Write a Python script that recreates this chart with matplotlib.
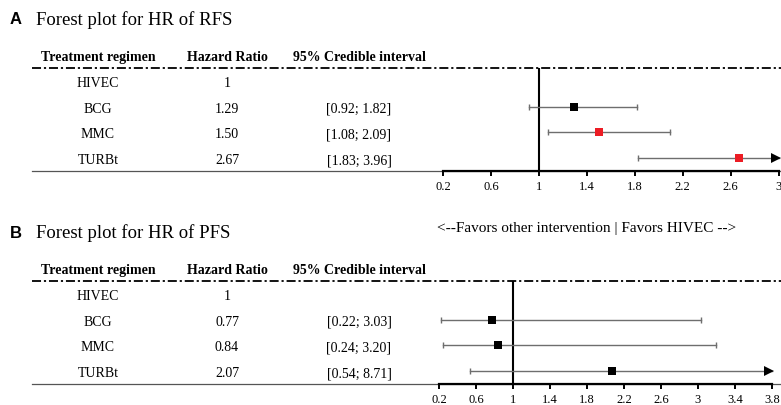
import matplotlib.pyplot as plt
from matplotlib.transforms import offset_copy

plt.rcParams['font.family'] = ['Liberation Serif', 'DejaVu Serif']

regimens = ['HIVEC', 'BCG', 'MMC', 'TURBt']
headers = ['Treatment regimen', 'Hazard Ratio', '95% Credible interval']

# recurrence-free survival
rfs_hr = [1, 1.29, 1.50, 2.67]
rfs_lo = [None, 0.92, 1.08, 1.83]
rfs_hi = [None, 1.82, 2.09, 3.96]
rfs_colors = ['black', 'black', '#ec1c24', '#ec1c24']
rfs_ticks = [0.2, 0.6, 1, 1.4, 1.8, 2.2, 2.6, 3]

# progression-free survival
pfs_hr = [1, 0.77, 0.84, 2.07]
pfs_lo = [None, 0.22, 0.24, 0.54]
pfs_hi = [None, 3.03, 3.20, 8.71]
pfs_colors = ['black', 'black', 'black', 'black']
pfs_ticks = [0.2, 0.6, 1, 1.4, 1.8, 2.2, 2.6, 3, 3.4, 3.8]

W, H = 781, 405
fig = plt.figure(figsize=(W / 100, H / 100), dpi=100)


def box(left, top, right, bottom):
    return [left / W, 1 - bottom / H, (right - left) / W, (bottom - top) / H]


def tick_label(v):
    return f'{v:g}'


def panel(top, letter, title, title_y, hr, lo, hi, colors, ticks, xlim, plot_left):
    bottom = top + 103
    fig.text(10 / W, 1 - title_y / H, letter, family='Liberation Sans', weight='bold',
             size=12, va='center')
    fig.text(36 / W, 1 - title_y / H, title, size=13.5, va='center')

    # table part
    tab = fig.add_axes(box(0, top, W, bottom))
    tab.set_xlim(0, W)
    tab.set_ylim(3.5, -0.5)
    tab.axis('off')
    col_x = [98, 227, 359]
    for x, h in zip(col_x, headers):
        tab.text(x, -0.9, h, ha='center', va='center', weight='bold', size=10)
    tab.plot([32, W], [-0.5, -0.5], color='black', lw=1.3,
             dashes=(5, 1.6, 1.2, 1.6), clip_on=False)
    tab.plot([32, W], [3.5, 3.5], color='#555555', lw=0.9, clip_on=False)
    for i, name in enumerate(regimens):
        y = i + 0.1
        tab.text(col_x[0], y, name, ha='center', va='center', size=10)
        tab.text(col_x[1], y, '1' if hr[i] == 1 else f'{hr[i]:.2f}',
                 ha='center', va='center', size=10)
        if lo[i] is not None:
            tab.text(col_x[2], y, f'[{lo[i]:.2f}; {hi[i]:.2f}]',
                     ha='center', va='center', size=10)

    # forest part
    ax = fig.add_axes(box(plot_left, top, W, bottom))
    ax.patch.set_visible(False)
    ax.set_xlim(*xlim)
    ax.set_ylim(3.5, -0.5)
    for s in ['top', 'right', 'left']:
        ax.spines[s].set_visible(False)
    ax.spines['bottom'].set_bounds(ticks[0], ticks[-1])
    ax.spines['bottom'].set_linewidth(1.6)
    ax.set_yticks([])
    ax.set_xticks(ticks, [tick_label(t) for t in ticks])
    ax.tick_params(axis='x', direction='out', length=3.5, width=1.4, labelsize=9, pad=3.5)
    ax.axvline(1, color='black', lw=1.5)

    arrow_tf = offset_copy(ax.transData, fig=fig, x=-3, y=0, units='dots')
    for i in range(len(regimens)):
        if lo[i] is None:
            continue
        end = min(hi[i], ticks[-1])
        ax.plot([lo[i], end], [i, i], color='#6e6e6e', lw=1.0, clip_on=False)
        ax.plot([lo[i]], [i], marker='|', ms=5, mew=1.0, color='#6e6e6e', clip_on=False)
        if hi[i] > ticks[-1]:
            ax.plot([end], [i], marker='>', ms=7, color='black', mew=0,
                    transform=arrow_tf, clip_on=False)
        else:
            ax.plot([end], [i], marker='|', ms=5, mew=1.0, color='#6e6e6e', clip_on=False)
        ax.plot([hr[i]], [i], marker='s', ms=5.5, color=colors[i], mew=0, clip_on=False)
    return ax


panel(68, 'A', 'Forest plot for HR of RFS', 20, rfs_hr, rfs_lo, rfs_hi, rfs_colors,
      rfs_ticks, (0, 3.02), 419)
panel(281, 'B', 'Forest plot for HR of PFS', 233, pfs_hr, pfs_lo, pfs_hi, pfs_colors,
      pfs_ticks, (0, 3.9), 420.5)

fig.text(587 / W, 1 - 228 / H, '<--Favors other intervention | Favors HIVEC -->',
         ha='center', va='center', size=11)

fig.savefig('out.png', dpi=100)
